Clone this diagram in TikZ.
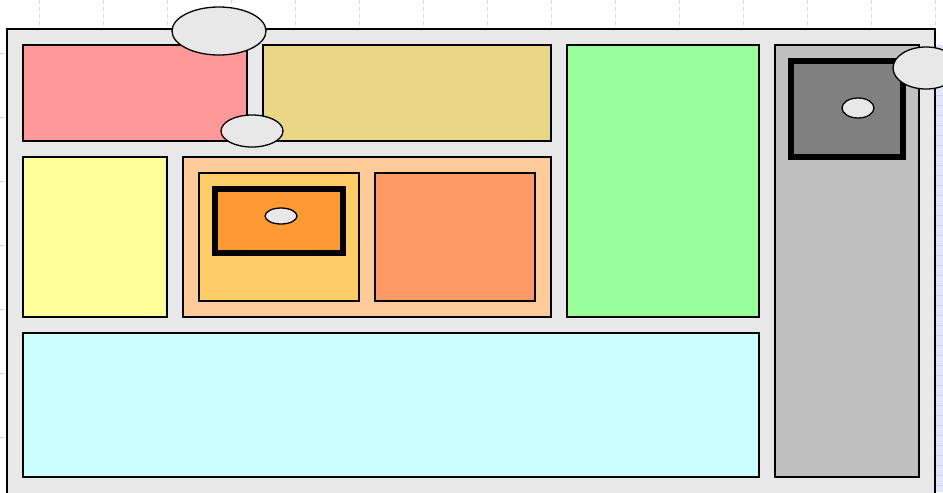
\documentclass[tikz,border=0pt]{standalone}
\usepackage{xcolor}
\usepackage{tikz}

\definecolor{panelgray}{RGB}{232,232,232}
\definecolor{rosebox}{RGB}{255,153,153}
\definecolor{khakibox}{RGB}{233,215,133}
\definecolor{greenbox}{RGB}{153,255,153}
\definecolor{silverbox}{RGB}{192,192,192}
\definecolor{darkbox}{RGB}{128,128,128}
\definecolor{lemonbox}{RGB}{255,255,153}
\definecolor{peachbox}{RGB}{255,204,153}
\definecolor{goldbox}{RGB}{255,204,102}
\definecolor{orangebox}{RGB}{255,153,51}
\definecolor{salmonbox}{RGB}{255,153,102}
\definecolor{cyanbox}{RGB}{204,255,255}
\definecolor{gridline}{RGB}{208,214,250}
\definecolor{gridfill}{RGB}{226,230,250}

\begin{document}
\begin{tikzpicture}[
  x=0.03cm, y=-0.03cm,
  box/.style={draw, line width=1.1pt, fill=#1},
  box/.default={panelgray},
  thickbox/.style={draw, line width=4.6pt, fill=#1},
  blob/.style={draw, line width=1.1pt, fill=panelgray},
  grid line/.style={gridline, dashed, line width=0.5pt},
]
\useasboundingbox (0,0) rectangle (943,492);

% slide background
\fill[white] (0,0) rectangle (943,492);
\foreach \gx in {39,103,...,935} \draw[grid line] (\gx,0) -- (\gx,492);
\foreach \gy in {53,117,...,492} \draw[grid line] (0,\gy) -- (943,\gy);
\fill[gridfill] (935,45) rectangle (943,492);
\foreach \gy in {55,65,...,492} \draw[gridline, line width=0.4pt] (935,\gy) -- (943,\gy);

% frame
\draw[box] (7,29) rectangle (935,500);

% top row
\draw[box=rosebox] (23,45) rectangle (247,141);
\draw[box=khakibox] (263,45) rectangle (551,141);
\draw[box=greenbox] (567,45) rectangle (759,317);
\draw[box=silverbox] (775,45) rectangle (919,477);
\draw[thickbox=darkbox] (791,61) rectangle (903,157);

% middle row
\draw[box=lemonbox] (23,157) rectangle (167,317);
\draw[box=peachbox] (183,157) rectangle (551,317);
\draw[box=goldbox] (199,173) rectangle (359,301);
\draw[thickbox=orangebox] (215,189) rectangle (343,253);
\draw[box=salmonbox] (375,173) rectangle (535,301);

% bottom row
\draw[box=cyanbox] (23,333) rectangle (759,477);

% ellipses
\draw[blob] (219,31) ellipse (47 and 24);
\draw[blob] (252,131) ellipse (31 and 16);
\draw[blob] (926,68) ellipse (33 and 21);
\draw[blob] (858,108) ellipse (16 and 10);
\draw[blob] (281,216) ellipse (16 and 8);
\end{tikzpicture}
\end{document}
